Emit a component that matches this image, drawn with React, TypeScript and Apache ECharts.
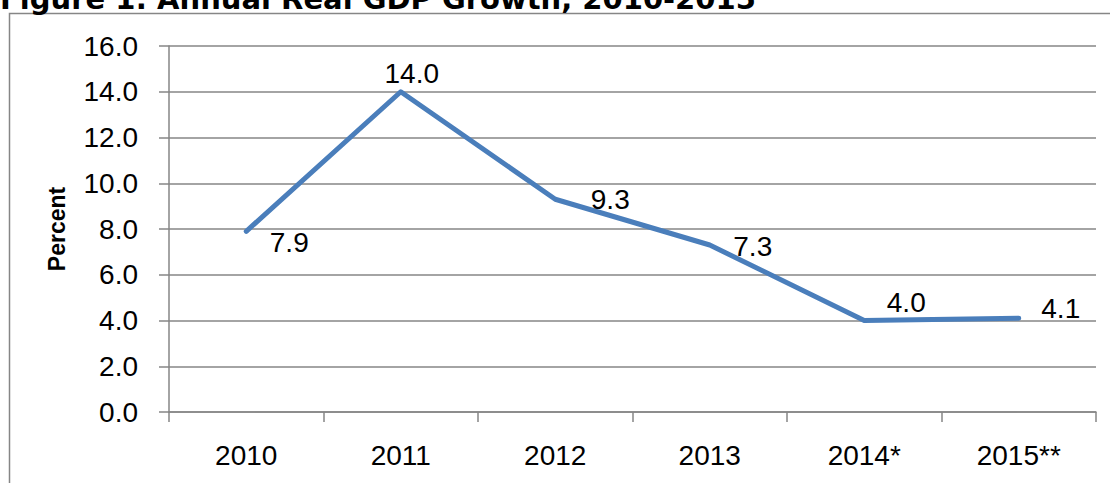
import React, { useEffect, useRef } from "react";
import * as echarts from "echarts";

const years = ["2010", "2011", "2012", "2013", "2014*", "2015**"];
const growth = [7.9, 14.0, 9.3, 7.3, 4.0, 4.1];
const labelOffsets: [number, number][] = [
  [43, 11],
  [11, -18],
  [55, 0],
  [43, 1],
  [42, -18],
  [42, -10],
];
const titleText = "Figure 1: Annual Real GDP Growth, 2010-2015";
const axisName = "Percent";

const FONT = "Liberation Sans";
const GREY = "#868686";

export default function App() {
  const ref = useRef<HTMLDivElement>(null);
  useEffect(() => {
    if (!ref.current) return;
    const chart = echarts.init(ref.current, undefined, { renderer: "svg" });
    chart.setOption({
      animation: false,
      backgroundColor: "#ffffff",
      grid: { left: 169, top: 46, right: 14, bottom: 71, containLabel: false },
      graphic: [
        {
          type: "rect",
          shape: { x: 9.5, y: 13.5, width: 1200, height: 600 },
          style: { fill: "none", stroke: GREY, lineWidth: 1.5 },
          silent: true,
        },
        {
          type: "text",
          x: 0,
          y: -1.5,
          style: {
            text: titleText,
            font: "bold 29px 'DejaVu Sans'",
            fill: "#000",
            align: "left",
            verticalAlign: "middle",
          },
        },
      ],
      xAxis: {
        type: "category",
        data: years,
        boundaryGap: true,
        axisLine: { show: true, lineStyle: { color: GREY, width: 1.5 } },
        axisTick: { show: true, length: 10, alignWithLabel: false, lineStyle: { color: GREY, width: 1.5 } },
        axisLabel: { color: "#000", fontFamily: FONT, fontSize: 28, margin: 29 },
        splitLine: { show: false },
      },
      yAxis: {
        type: "value",
        min: 0,
        max: 16,
        interval: 2,
        name: axisName,
        nameLocation: "middle",
        nameGap: 101,
        nameRotate: 90,
        nameTextStyle: { color: "#000", fontFamily: FONT, fontSize: 23, fontWeight: "bold" },
        axisLine: { show: true, lineStyle: { color: GREY, width: 1.5 } },
        axisTick: { show: true, length: 10, lineStyle: { color: GREY, width: 1.5 } },
        axisLabel: {
          color: "#000",
          fontFamily: FONT,
          fontSize: 28,
          margin: 31,
          formatter: (v: number) => v.toFixed(1),
        },
        splitLine: { show: true, lineStyle: { color: GREY, width: 1.5 } },
      },
      series: [
        {
          type: "line",
          data: growth.map((v, i) => ({
            value: v,
            label: { offset: labelOffsets[i] },
          })),
          symbol: "circle",
          symbolSize: 2,
          showSymbol: true,
          itemStyle: { color: "#4A7EBB" },
          lineStyle: { color: "#4A7EBB", width: 5, cap: "round", join: "round" },
          label: {
            show: true,
            position: "inside",
            color: "#000",
            fontFamily: FONT,
            fontSize: 28,
            formatter: (p: any) => Number(p.value).toFixed(1),
          },
        },
      ],
    });
    return () => chart.dispose();
  }, []);
  return (
    <div
      ref={ref}
      style={{ position: "fixed", left: 0, top: 0, width: 1110, height: 483 }}
    />
  );
}
